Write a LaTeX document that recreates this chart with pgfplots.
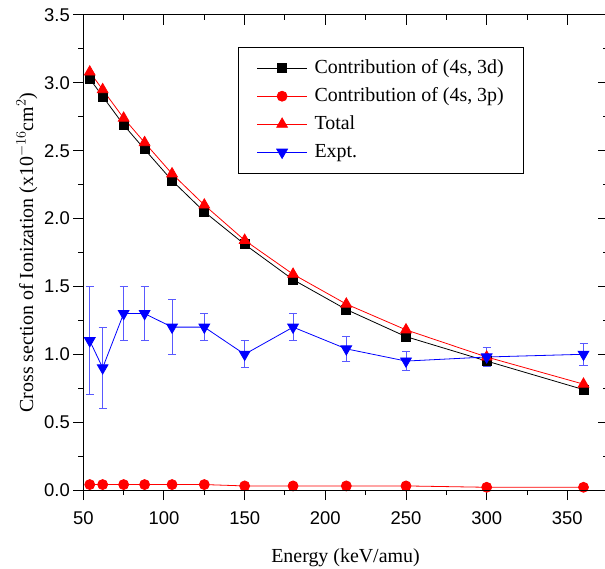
\documentclass[border=0pt]{standalone}
\usepackage{fontspec}
\setmainfont{Liberation Serif}
\newfontfamily\arial{Liberation Sans}
\usepackage{pgfplots}
\pgfplotsset{compat=1.18}

\pgfplotstableread{
x    d3    p3    tot
54   3.03  0.04  3.08
62   2.90  0.04  2.95
75   2.69  0.04  2.74
88   2.51  0.04  2.56
105  2.28  0.04  2.33
125  2.05  0.04  2.10
150  1.81  0.03  1.84
180  1.55  0.03  1.59
213  1.33  0.03  1.37
250  1.13  0.03  1.18
300  0.95  0.02  0.98
360  0.74  0.02  0.78
}\theory

\pgfplotstableread{
x    y     e
54   1.10  0.40
62   0.90  0.30
75   1.30  0.20
88   1.30  0.20
105  1.20  0.20
125  1.20  0.10
150  1.00  0.10
180  1.20  0.10
213  1.04  0.09
250  0.95  0.07
300  0.98  0.07
360  1.00  0.08
}\expt

\begin{document}
\begin{tikzpicture}
\pgfplotsset{
  frame/.style={
    width=524.4bp, height=475bp, scale only axis,
    xmin=50, xmax=375, ymin=0, ymax=3.5,
    xtick={50,100,...,350}, ytick={0,0.5,...,3.5},
    minor xtick={75,125,...,375}, minor ytick={0.25,0.75,...,3.25},
    major tick length=10bp, minor tick length=5bp,
    axis line style={line width=1bp},
    every tick/.style={black, line width=1bp},
  }
}
\begin{axis}[frame, name=ax,
  tick align=outside, xtick pos=bottom, ytick pos=left,
  ticklabel style={font=\arial\fontsize{18.5}{20}\selectfont},
  xticklabel style={yshift=-8bp},
  /pgf/number format/assume math mode=true,
  yticklabel style={/pgf/number format/.cd, fixed, fixed zerofill, precision=1},
  xlabel={Energy (keV/amu)},
  xlabel style={yshift=-17bp},
  ylabel={Cross section of Ionization (x10$^{-16}$cm$^{2}$)},
  label style={font=\fontsize{20}{22}\selectfont},
  legend style={at={(0.2956,0.933)}, anchor=north west, draw=black,
    line width=0.8bp, font=\fontsize{20}{22}\selectfont,
    inner xsep=18bp, inner ysep=10bp, row sep=6bp, column sep=5bp,
    nodes={inner sep=2bp, text height=14bp, text depth=4bp}},
  legend cell align=left,
  legend image code/.code={
    \draw[mark repeat=2, mark phase=2, #1]
      plot coordinates {(0bp,0bp) (25bp,0bp) (50bp,0bp)};},
]
\addplot[black, line width=0.8bp, mark=square*, mark size=4.5bp,
  mark options={solid}] table[x=x, y=d3] {\theory};
\addlegendentry{Contribution of (4s, 3d)}
\addplot[red, line width=0.8bp, mark=*, mark size=5bp]
  table[x=x, y=p3] {\theory};
\addlegendentry{Contribution of (4s, 3p)}
\addplot[red, line width=0.8bp, mark=triangle*, mark size=6.2bp]
  table[x=x, y=tot] {\theory};
\addlegendentry{Total}
\addplot[blue, line width=0.8bp, mark=triangle*, mark size=6.2bp,
  mark options={rotate=180},
  error bars/.cd, y dir=both, y explicit,
  error bar style={blue!65, line width=1bp},
  error mark options={rotate=90, mark size=4bp, blue!65, line width=1bp}]
  table[x=x, y=y, y error=e] {\expt};
\addlegendentry{Expt.}
\end{axis}
\begin{axis}[frame, at={(ax.south west)}, anchor=south west,
  tick align=inside, xtick pos=top, ytick pos=right,
  xticklabels={}, yticklabels={}]
\end{axis}
\pgfresetboundingbox
\path[use as bounding box] ([xshift=-83.3bp,yshift=-79bp]ax.south west)
  rectangle ([xshift=521.7bp,yshift=15bp]ax.north west);
\end{tikzpicture}
\end{document}
